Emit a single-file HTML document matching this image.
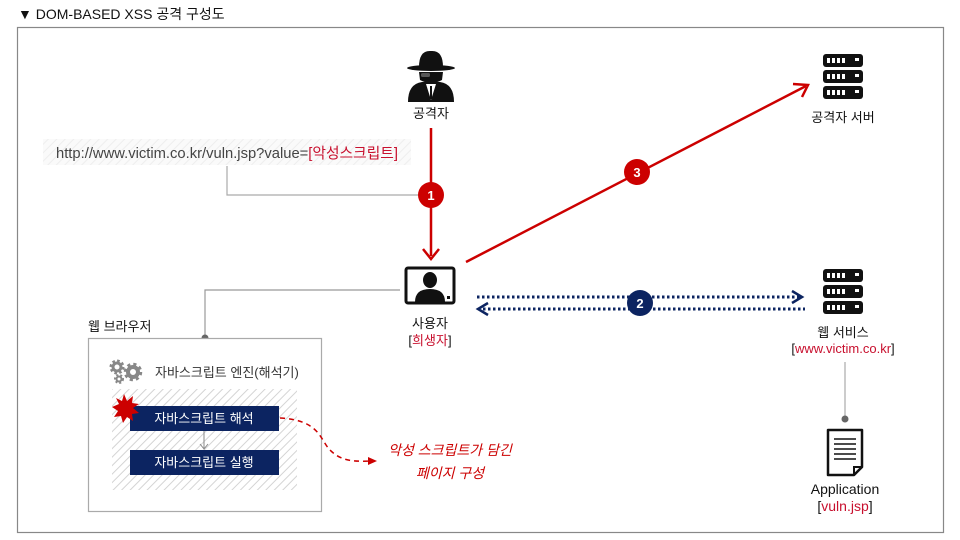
<!DOCTYPE html>
<html><head><meta charset="utf-8"><style>
html,body{margin:0;padding:0;background:#fff;}
svg{display:block;font-family:"Liberation Sans","Noto Sans CJK KR",sans-serif;}
</style></head><body>
<svg width="960" height="540" viewBox="0 0 960 540" xmlns="http://www.w3.org/2000/svg">
<defs>
<pattern id="hatch" width="6" height="6" patternUnits="userSpaceOnUse" patternTransform="rotate(45)">
<rect width="6" height="6" fill="#fff"/><line x1="0" y1="0" x2="0" y2="6" stroke="#d4d4d4" stroke-width="2"/>
</pattern>
<pattern id="hatch2" width="6" height="6" patternUnits="userSpaceOnUse" patternTransform="rotate(45)">
<rect width="6" height="6" fill="#fafafa"/><line x1="0" y1="0" x2="0" y2="6" stroke="#eeeeee" stroke-width="2"/>
</pattern>
<g id="server">
<rect x="0" y="0" width="40" height="13" rx="3" fill="#111"/>
<rect x="0" y="16" width="40" height="13" rx="3" fill="#111"/>
<rect x="0" y="32" width="40" height="13" rx="3" fill="#111"/>
<g fill="#fff">
<rect x="4" y="4" width="3" height="5"/><rect x="9" y="4" width="3" height="5"/><rect x="14" y="4" width="3" height="5"/><rect x="19" y="4" width="3" height="5"/><rect x="32" y="4" width="4" height="3"/>
<rect x="4" y="20" width="3" height="5"/><rect x="9" y="20" width="3" height="5"/><rect x="14" y="20" width="3" height="5"/><rect x="19" y="20" width="3" height="5"/><rect x="32" y="20" width="4" height="3"/>
<rect x="4" y="36" width="3" height="5"/><rect x="9" y="36" width="3" height="5"/><rect x="14" y="36" width="3" height="5"/><rect x="19" y="36" width="3" height="5"/><rect x="32" y="36" width="4" height="3"/>
</g>
</g>
</defs>

<text x="18" y="19" font-size="14" fill="#111">▼ DOM-BASED XSS 공격 구성도</text>
<rect x="17.5" y="27.5" width="926" height="505" fill="none" stroke="#888" stroke-width="1.2"/>

<!-- URL -->
<rect x="43" y="139" width="368" height="26" fill="url(#hatch2)"/>
<text x="56" y="158" font-size="15" fill="#444" textLength="342" lengthAdjust="spacingAndGlyphs">http://www.victim.co.kr/vuln.jsp?value=<tspan fill="#c8102e">[악성스크립트]</tspan></text>
<polyline points="227,166 227,195 418,195" fill="none" stroke="#aaa" stroke-width="1.2"/>

<!-- attacker icon -->
<g fill="#111">
<ellipse cx="431" cy="68" rx="24" ry="3"/>
<path d="M419,67 Q419,50 431,51 Q443,50 443,67 Z"/>
<path d="M419,72 L443,72 L442,80 Q431,86 420,80 Z"/>
<path d="M408,102 Q408,84 422,82 L440,82 Q454,84 454,102 Z"/>
</g>
<rect x="421" y="73" width="9" height="4" rx="1.5" fill="#fff" opacity="0.3"/>
<path d="M426,84 L431,100 L436,84 Z" fill="#fff"/>
<line x1="431" y1="86" x2="431" y2="99" stroke="#111" stroke-width="2"/>
<text x="431" y="118" font-size="13" fill="#111" text-anchor="middle">공격자</text>

<!-- arrow 1 -->
<line x1="431" y1="128" x2="431" y2="256" stroke="#c00" stroke-width="2.5"/>
<polyline points="423,249 431,259 439,249" fill="none" stroke="#c00" stroke-width="2.5"/>
<circle cx="431" cy="195" r="13" fill="#c00"/>
<text x="431" y="200" font-size="13" font-weight="bold" fill="#fff" text-anchor="middle">1</text>

<!-- user monitor -->
<rect x="406" y="268" width="48" height="35" rx="2" fill="#fff" stroke="#111" stroke-width="3"/>
<ellipse cx="430" cy="280" rx="7" ry="8" fill="#111"/>
<path d="M415,302 Q415,289 430,289 Q445,289 445,302 Z" fill="#111"/>
<rect x="447" y="296" width="3" height="3" fill="#111"/>
<text x="430" y="328" font-size="13" fill="#111" text-anchor="middle">사용자</text>
<text x="430" y="345" font-size="13" fill="#111" text-anchor="middle">[<tspan fill="#c8102e">희생자</tspan>]</text>

<!-- arrow 3 -->
<line x1="466" y1="262" x2="806" y2="86" stroke="#c00" stroke-width="2.5"/>
<polyline points="793,84 808,85 802,97" fill="none" stroke="#c00" stroke-width="2.5"/>
<circle cx="637" cy="172" r="13" fill="#c00"/>
<text x="637" y="177" font-size="13" font-weight="bold" fill="#fff" text-anchor="middle">3</text>

<!-- attacker server -->
<use href="#server" x="823" y="54"/>
<text x="843" y="122" font-size="13" fill="#111" text-anchor="middle">공격자 서버</text>

<!-- arrow 2 -->
<line x1="477" y1="297" x2="800" y2="297" stroke="#0c2461" stroke-width="3" stroke-dasharray="2.5,2.5"/>
<line x1="483" y1="309" x2="805" y2="309" stroke="#0c2461" stroke-width="3" stroke-dasharray="2.5,2.5"/>
<polyline points="792,291 802,297 792,303" fill="none" stroke="#0c2461" stroke-width="2.5"/>
<polyline points="488,303 478,309 488,315" fill="none" stroke="#0c2461" stroke-width="2.5"/>
<circle cx="640" cy="303" r="13" fill="#0c2461"/>
<text x="640" y="308" font-size="13" font-weight="bold" fill="#fff" text-anchor="middle">2</text>

<!-- web service -->
<use href="#server" x="823" y="269"/>
<text x="843" y="337" font-size="13" fill="#111" text-anchor="middle">웹 서비스</text>
<text x="843" y="353" font-size="13" fill="#111" text-anchor="middle">[<tspan fill="#c8102e">www.victim.co.kr</tspan>]</text>
<line x1="845" y1="362" x2="845" y2="419" stroke="#aaa" stroke-width="1.2"/>
<circle cx="845" cy="419" r="3.5" fill="#666"/>
<!-- doc -->
<path d="M828,430 L862,430 L862,467 L854,475 L828,475 Z" fill="#fff" stroke="#111" stroke-width="2.5" stroke-linejoin="round"/>
<path d="M854,475 L854,467 L862,467" fill="none" stroke="#111" stroke-width="2"/>
<g stroke="#111" stroke-width="1.5"><line x1="834" y1="439" x2="856" y2="439"/><line x1="834" y1="444" x2="856" y2="444"/><line x1="834" y1="449" x2="856" y2="449"/><line x1="834" y1="454" x2="856" y2="454"/><line x1="834" y1="459" x2="856" y2="459"/></g>
<text x="845" y="494" font-size="14" fill="#111" text-anchor="middle">Application</text>
<text x="845" y="511" font-size="14" fill="#111" text-anchor="middle">[<tspan fill="#c8102e">vuln.jsp</tspan>]</text>

<!-- browser -->
<polyline points="400,290 205,290 205,338" fill="none" stroke="#999" stroke-width="1.2"/>
<circle cx="205" cy="338" r="3.5" fill="#666"/>
<text x="88" y="331" font-size="13" fill="#111">웹 브라우저</text>
<rect x="88.5" y="338.5" width="233" height="173" fill="#fff" stroke="#aaa" stroke-width="1.2"/>
<!-- gears -->
<circle cx="117" cy="367" r="4" fill="none" stroke="#888" stroke-width="3"/>
<circle cx="117" cy="367" r="6" fill="none" stroke="#888" stroke-width="3" stroke-dasharray="2.5,2.2"/>
<circle cx="119" cy="379" r="2.5" fill="none" stroke="#888" stroke-width="2"/>
<circle cx="119" cy="379" r="4" fill="none" stroke="#888" stroke-width="2" stroke-dasharray="2,2"/>
<circle cx="133" cy="372" r="5" fill="none" stroke="#888" stroke-width="4"/>
<circle cx="133" cy="372" r="7.5" fill="none" stroke="#888" stroke-width="3.5" stroke-dasharray="3,2.9"/>
<text x="155" y="377" font-size="13" fill="#333">자바스크립트 엔진(해석기)</text>
<rect x="112" y="389" width="185" height="101" fill="url(#hatch)"/>
<rect x="130" y="406" width="149" height="25" fill="#0c2461"/>
<text x="204" y="423" font-size="13" fill="#fff" text-anchor="middle">자바스크립트 해석</text>
<line x1="204" y1="431" x2="204" y2="449" stroke="#888" stroke-width="1"/>
<polyline points="200,444 204,449 208,444" fill="none" stroke="#888"/>
<rect x="130" y="450" width="149" height="25" fill="#0c2461"/>
<text x="204" y="467" font-size="13" fill="#fff" text-anchor="middle">자바스크립트 실행</text>
<polygon points="124,394 127,401 133,396 132,403 139,404 133,408 139,413 132,414 133,421 127,417 123,423 121,416 114,417 118,411 112,407 119,404 116,398 122,401" fill="#c00"/>

<!-- dashed curve -->
<path d="M280,418 C320,420 320,440 330,450 C340,460 350,462 372,461" fill="none" stroke="#c00" stroke-width="1.5" stroke-dasharray="5,4"/>
<polygon points="368,457 377,461 368,465" fill="#c00"/>
<text x="450" y="455" font-size="14" fill="#c00" text-anchor="middle" font-style="italic">악성 스크립트가 담긴</text>
<text x="450" y="478" font-size="14" fill="#c00" text-anchor="middle" font-style="italic">페이지 구성</text>
</svg>
</body></html>
